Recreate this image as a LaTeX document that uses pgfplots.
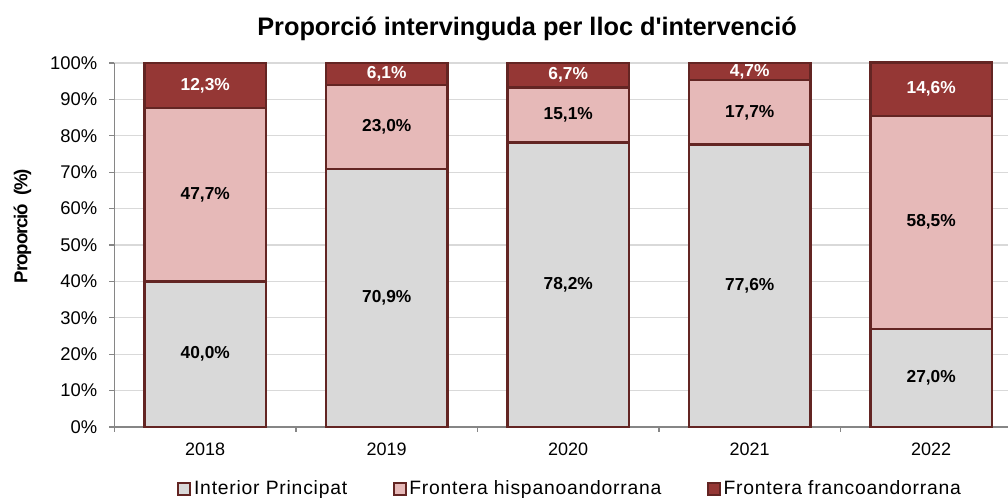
\documentclass[border=0pt]{standalone}
\usepackage{pgfplots}
\usepackage{pgfplotstable}
\pgfplotsset{compat=1.18}
\usepackage{fontspec}
\setmainfont{Liberation Sans}
\newfontfamily\legfont[LetterSpace=4]{Liberation Sans}
\newfontfamily\ylabfont[LetterSpace=-6]{Liberation Sans}
\newfontfamily\titlefont[Ligatures=TeXOff]{Liberation Sans}
\definecolor{cgray}{HTML}{D9D9D9}
\definecolor{cpink}{HTML}{E6B9B8}
\definecolor{cred}{HTML}{953735}
\definecolor{cborder}{HTML}{632523}
\definecolor{cgrid}{HTML}{D9D9D9}
\definecolor{caxis}{HTML}{868686}
\tikzset{lbl/.style={font=\bfseries\fontsize{13pt}{15pt}\selectfont}}
\pgfplotstableread{
x interior hispano franco
0 40.0 47.7 12.3
1 70.9 23.0 6.1
2 78.2 15.1 6.7
3 77.6 17.7 4.7
4 27.0 58.5 14.6
}\datatable
\begin{document}
\begin{tikzpicture}
\path[use as bounding box] (-85.875pt,-54pt) rectangle (670.125pt,320.25pt);
\begin{axis}[
  at={(0pt,0pt)}, anchor=south west,
  scale only axis, width=670.125pt, height=273pt,
  ybar stacked, bar width=0.67,
  xmin=-0.5, xmax=4.423, ymin=0, ymax=100,
  clip=false,
  axis x line=bottom, axis y line=left,
  axis line style={-, draw=caxis, line width=0.8pt},
  xtick={0,1,2,3,4},
  xticklabels={2018,2019,2020,2021,2022},
  minor xtick={-0.5,0.5,1.5,2.5,3.5},
  major tick length=3.75pt,
  minor tick length=3.75pt,
  tick align=outside,
  tick style={draw=caxis, line width=0.8pt},
  major x tick style={draw=none},
  ytick={0,10,...,100},
  yticklabel={\pgfmathprintnumber{\tick}\%},
  /pgf/number format/assume math mode=true,
  yticklabel style={font=\fontsize{13.8pt}{16pt}\selectfont, anchor=east, inner sep=0pt, xshift=-9pt},
  xticklabel style={font=\fontsize{13.5pt}{16pt}\selectfont, anchor=north, inner sep=0pt, yshift=-8pt},
  ymajorgrids, grid style={draw=cgrid, line width=1pt},
  legend columns=3,
  legend style={at={(axis description cs:0.0655,-0.1703)}, anchor=west, draw=none, fill=none,
    font=\legfont\fontsize{14.5pt}{16pt}\selectfont,
    /tikz/every even column/.append style={column sep=32pt},
    nodes={inner xsep=2pt, inner ysep=0pt}},
  legend image code/.code={\draw[#1, line width=1.6pt] (0.5pt,-4.5pt) rectangle (9.5pt,4.5pt);},
]
\addplot[fill=cgray, draw=cborder, line width=1.8pt] table[x=x, y=interior] {\datatable};
\addlegendentry{Interior Principat}
\addplot[fill=cpink, draw=cborder, line width=1.8pt] table[x=x, y=hispano] {\datatable};
\addlegendentry{Frontera hispanoandorrana}
\addplot[fill=cred, draw=cborder, line width=1.8pt] table[x=x, y=franco] {\datatable};
\addlegendentry{Frontera francoandorrana}
\coordinate (a0) at (axis cs:0,20.0);
\coordinate (b0) at (axis cs:0,63.85);
\coordinate (c0) at (axis cs:0,93.85);
\coordinate (a1) at (axis cs:1,35.45);
\coordinate (b1) at (axis cs:1,82.4);
\coordinate (c1) at (axis cs:1,96.95);
\coordinate (a2) at (axis cs:2,39.1);
\coordinate (b2) at (axis cs:2,85.75);
\coordinate (c2) at (axis cs:2,96.65);
\coordinate (a3) at (axis cs:3,38.8);
\coordinate (b3) at (axis cs:3,86.45);
\coordinate (c3) at (axis cs:3,97.65);
\coordinate (a4) at (axis cs:4,13.5);
\coordinate (b4) at (axis cs:4,56.25);
\coordinate (c4) at (axis cs:4,92.8);
\end{axis}
\node[lbl] at (a0) {40,0\%};
\node[lbl] at (b0) {47,7\%};
\node[lbl,text=white] at (c0) {12,3\%};
\node[lbl] at (a1) {70,9\%};
\node[lbl] at (b1) {23,0\%};
\node[lbl,text=white] at (c1) {6,1\%};
\node[lbl] at (a2) {78,2\%};
\node[lbl] at (b2) {15,1\%};
\node[lbl,text=white] at (c2) {6,7\%};
\node[lbl] at (a3) {77,6\%};
\node[lbl] at (b3) {17,7\%};
\node[lbl,text=white] at (c3) {4,7\%};
\node[lbl] at (a4) {27,0\%};
\node[lbl] at (b4) {58,5\%};
\node[lbl,text=white] at (c4) {14,6\%};
\node[anchor=base, font=\titlefont\bfseries\fontsize{19pt}{22pt}\selectfont] at (309.4pt,293.25pt) {Proporció intervinguda per lloc d'intervenció};
\node[rotate=90, font=\ylabfont\bfseries\fontsize{14pt}{16pt}\selectfont] at (-69pt,150.75pt) {Proporció\ \ (\%)};
\end{tikzpicture}
\end{document}
